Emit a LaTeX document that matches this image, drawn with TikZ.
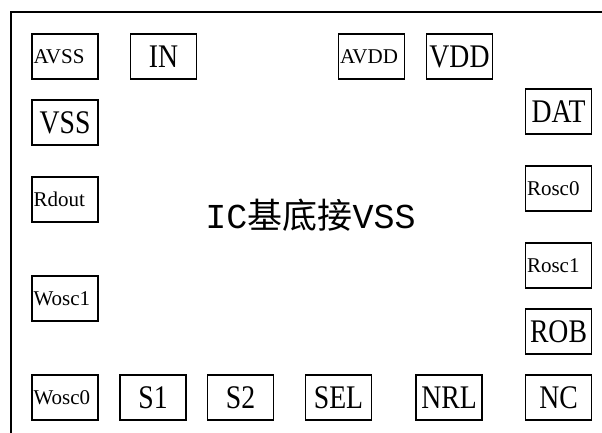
\documentclass[tikz,border=0pt]{standalone}
\usepackage{fontspec}
\setmainfont{Liberation Serif}
\newfontfamily\bigpinfont{Liberation Serif}[FakeStretch=0.84]
\newfontfamily\smallpinfont{Liberation Serif}
\newfontfamily\titlelatin{Liberation Mono}
\newfontfamily\titlecjk{Noto Sans CJK SC}

\begin{document}
\begin{tikzpicture}[x=1pt,y=-1pt]
                \tikzstyle{pinbox}=[rectangle,draw=black,fill=white,line width=1.5pt,minimum width=66pt,minimum height=45pt,inner sep=0pt]
                \tikzstyle{pinbig}=[pinbox,font=\fontsize{33}{33}\selectfont\bigpinfont]
                \tikzstyle{pinsmall}=[pinbox,font=\fontsize{21}{21}\selectfont\smallpinfont,text width=63pt,align=left,inner xsep=1.5pt]
                \useasboundingbox (0,0) rectangle (602,433);
                \clip (0,0) rectangle (602,433);
                % chip outline, only its top and left sides fall in the picture
                \draw[line width=2pt] (10.5,12.5) rectangle (640,470);

                    \foreach \name/\x/\y in {IN/163.5/56.5, VDD/459.5/56.5, VSS/65/122.5, DAT/558.5/111.5,
                                             ROB/558.5/331.5, S1/153/397.5, S2/240.5/397.5, SEL/338.5/397.5,
                                             NRL/449/397.5, NC/558.5/397.5}
                        \node[pinbig] (P-\name) at (\x,\y) {\name};

                    \foreach \name/\x/\y in {AVSS/65/56.5, AVDD/371.5/56.5, Rdout/65/199.5, Rosc0/558.5/188.5,
                                             Rosc1/558.5/265.5, Wosc1/65/298.5, Wosc0/65/397.5}
                        \node[pinsmall] (P-\name) at (\x,\y) {\name};

                \node[font=\fontsize{35}{35}\selectfont] (title) at (310.5,215) {\titlelatin IC\titlecjk 基底接\titlelatin VSS};
            \end{tikzpicture}
\end{document}
